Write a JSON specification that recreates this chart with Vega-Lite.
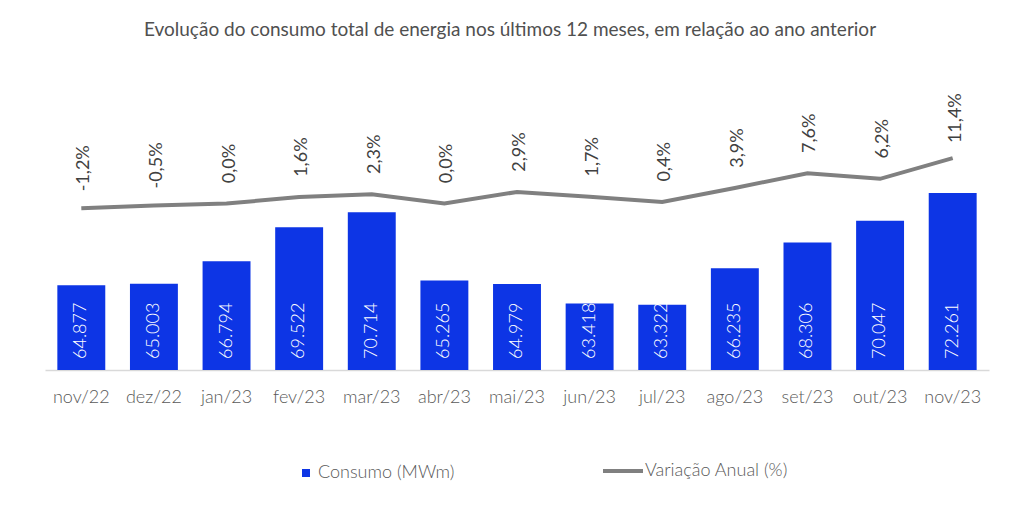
{
  "$schema": "https://vega.github.io/schema/vega-lite/v6.json",
  "width": 944,
  "height": 310,
  "autosize": {"type": "none"},
  "padding": {"left": 45, "top": 60, "right": 26, "bottom": 142},
  "background": "white",
  "title": {
    "text": "Evolução do consumo total de energia nos últimos 12 meses, em relação ao ano anterior",
    "font": "Lato",
    "fontSize": 19,
    "fontWeight": "normal",
    "color": "#505050",
    "anchor": "middle",
    "offset": 20,
    "dx": -7
  },
  "config": {
    "view": {"stroke": null},
    "locale": {"number": {"decimal": ",", "thousands": ".", "grouping": [3], "currency": ["R$", ""], "minus": "-"}}
  },
  "data": {
    "values": [
      {"mes": "nov/22", "consumo": 64877, "variacao": -0.012},
      {"mes": "dez/22", "consumo": 65003, "variacao": -0.005},
      {"mes": "jan/23", "consumo": 66794, "variacao": 0.0},
      {"mes": "fev/23", "consumo": 69522, "variacao": 0.016},
      {"mes": "mar/23", "consumo": 70714, "variacao": 0.023},
      {"mes": "abr/23", "consumo": 65265, "variacao": 0.0},
      {"mes": "mai/23", "consumo": 64979, "variacao": 0.029},
      {"mes": "jun/23", "consumo": 63418, "variacao": 0.017},
      {"mes": "jul/23", "consumo": 63322, "variacao": 0.004},
      {"mes": "ago/23", "consumo": 66235, "variacao": 0.039},
      {"mes": "set/23", "consumo": 68306, "variacao": 0.076},
      {"mes": "out/23", "consumo": 70047, "variacao": 0.062},
      {"mes": "nov/23", "consumo": 72261, "variacao": 0.114}
    ]
  },
  "encoding": {
    "x": {
      "field": "mes",
      "type": "ordinal",
      "sort": null,
      "scale": {"paddingInner": 0.34, "paddingOuter": 0.17},
      "axis": {
        "title": null,
        "labelAngle": 0,
        "labelFont": "Lato",
        "labelFontSize": 18,
        "labelFontWeight": 300,
        "labelColor": "#595959",
        "labelPadding": 18,
        "ticks": false,
        "domainColor": "#d9d9d9",
        "domainWidth": 1.5
      }
    }
  },
  "layer": [
    {
      "encoding": {
        "y": {
          "field": "consumo",
          "type": "quantitative",
          "scale": {"domain": [58100, 82900], "zero": false, "nice": false},
          "axis": null
        }
      },
      "layer": [
        {
          "mark": {"type": "bar"},
          "encoding": {
            "y2": {"datum": 58100},
            "fill": {
              "datum": "Consumo (MWm)",
              "type": "nominal",
              "scale": {"range": ["#0D35E5"]},
              "legend": {
                "title": null,
                "orient": "none",
                "legendX": 252,
                "legendY": 404,
                "symbolType": "square",
                "symbolSize": 64,
                "symbolStrokeWidth": 0,
                "labelFont": "Lato",
                "labelFontSize": 18,
                "labelFontWeight": 300,
                "labelColor": "#595959",
                "labelOffset": 3
              }
            }
          }
        },
        {
          "mark": {
            "type": "text",
            "angle": 270,
            "align": "left",
            "baseline": "middle",
            "dx": 11,
            "font": "Lato",
            "fontSize": 18,
            "fontWeight": 300,
            "color": "white"
          },
          "encoding": {
            "y": {"datum": 58100, "type": "quantitative"},
            "text": {"field": "consumo", "type": "quantitative", "format": ",.0f"}
          }
        }
      ]
    },
    {
      "encoding": {
        "y": {
          "field": "variacao",
          "type": "quantitative",
          "scale": {"domain": [-0.419, 0.361], "zero": false, "nice": false},
          "axis": null
        }
      },
      "layer": [
        {
          "mark": {"type": "line", "strokeWidth": 4, "strokeCap": "butt"},
          "encoding": {
            "stroke": {
              "datum": "Variação Anual (%)",
              "type": "nominal",
              "scale": {"range": ["#808080"]},
              "legend": {
                "title": null,
                "orient": "none",
                "legendX": 556,
                "legendY": 389,
                "symbolType": "stroke",
                "symbolSize": 1600,
                "symbolStrokeWidth": 4,
                "labelFont": "Lato",
                "labelFontSize": 18,
                "labelFontWeight": 300,
                "labelColor": "#595959",
                "labelOffset": 0
              }
            }
          }
        },
        {
          "mark": {
            "type": "text",
            "angle": 270,
            "align": "center",
            "baseline": "middle",
            "dx": 40,
            "dy": 3,
            "font": "Lato",
            "fontSize": 18,
            "color": "#404040"
          },
          "encoding": {
            "text": {"field": "variacao", "type": "quantitative", "format": ".1%"}
          }
        }
      ]
    }
  ],
  "resolve": {"scale": {"y": "independent"}}
}
